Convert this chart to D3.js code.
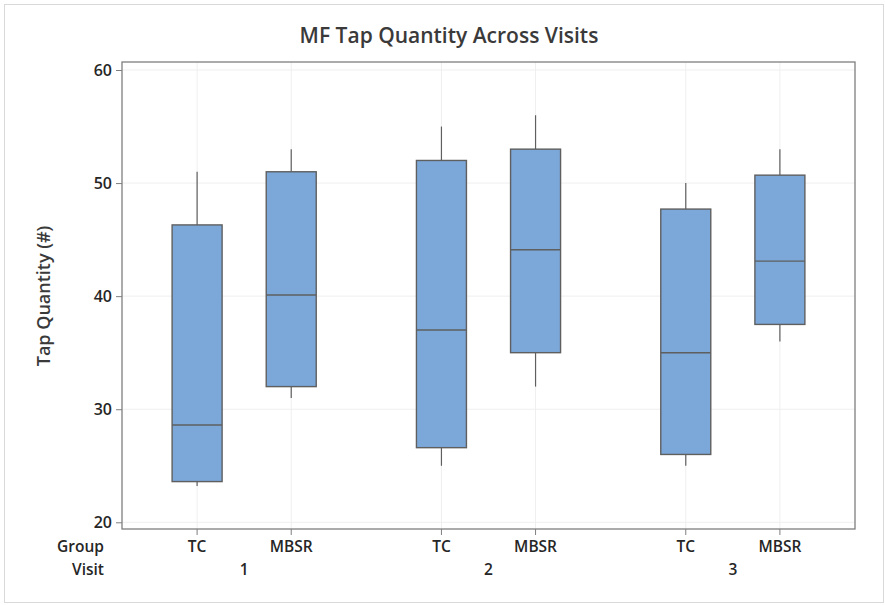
<!DOCTYPE html>
<html>
<head>
<meta charset="utf-8">
<script src="https://cdn.jsdelivr.net/npm/d3@7"></script>
<style>
  html, body { margin: 0; padding: 0; background: #fff; }
  svg { display: block; font-family: "Open Sans", "Noto Sans", sans-serif; }
</style>
</head>
<body>
<svg id="chart" width="885" height="605"></svg>
<script>
// ---- data ----
const visits = ["1", "2", "3"];
const groups = ["TC", "MBSR"];
const whiskerLow  = [23.2, 31, 25, 32, 25, 36];
const q1Values    = [23.6, 32, 26.6, 35, 26, 37.5];
const medians     = [28.6, 40.1, 37, 44.1, 35, 43.1];
const q3Values    = [46.3, 51, 52, 53, 47.7, 50.7];
const whiskerHigh = [51, 53, 55, 56, 50, 53];
const yTicks = [20, 30, 40, 50, 60];

const boxes = [];
visits.forEach((v, vi) => groups.forEach((g, gi) => {
  const i = vi * groups.length + gi;
  boxes.push({ visit: v, group: g, lo: whiskerLow[i], q1: q1Values[i], med: medians[i], q3: q3Values[i], hi: whiskerHigh[i] });
}));

// ---- layout ----
const svg = d3.select("#chart");
const plot = { left: 122, right: 855, top: 62, bottom: 529 };
const boxW = 50;
const textColor = "#262626";

const x0 = d3.scaleBand().domain(visits).range([plot.left, plot.right]).padding(0);
const x1 = d3.scalePoint().domain(groups).range([0, x0.bandwidth()]).padding(0.798);
const y = d3.scaleLinear().domain([20, 60]).range([522.3, 70]);
const cx = d => x0(d.visit) + x1(d.group);

// outer border
svg.append("rect").attr("x", 4.5).attr("y", 4.5).attr("width", 879).attr("height", 598)
  .attr("fill", "#fff").attr("stroke", "#d9d9d9").attr("stroke-width", 1);

// title
svg.append("text").attr("x", 449).attr("y", 42.5).attr("text-anchor", "middle")
  .attr("font-size", 21).attr("font-weight", 600).attr("fill", "#3a3a3a")
  .text("MF Tap Quantity Across Visits");

// gridlines
const grid = svg.append("g");
grid.selectAll("line.h").data(yTicks).join("line").attr("class", "h")
  .attr("x1", plot.left).attr("x2", plot.right)
  .attr("y1", d => y(d)).attr("y2", d => y(d))
  .attr("stroke", "#efefef").attr("stroke-width", 1);
grid.selectAll("line.v").data(boxes).join("line").attr("class", "v")
  .attr("x1", d => cx(d)).attr("x2", d => cx(d))
  .attr("y1", plot.top).attr("y2", plot.bottom)
  .attr("stroke", "#efefef").attr("stroke-width", 1);

// y axis
const yAxis = d3.axisLeft(y).tickValues(yTicks).tickSize(6).tickPadding(4);
const gy = svg.append("g").attr("transform", `translate(${plot.left},0)`).call(yAxis);
gy.select(".domain").remove();
gy.selectAll(".tick line").attr("stroke", "#7f7f7f");
gy.selectAll(".tick text").attr("font-size", 16).attr("font-weight", 600)
  .attr("fill", textColor).attr("font-family", "'Open Sans', sans-serif");

// x ticks (group positions)
svg.append("g").selectAll("line").data(boxes).join("line")
  .attr("x1", d => cx(d)).attr("x2", d => cx(d))
  .attr("y1", plot.bottom).attr("y2", plot.bottom + 6)
  .attr("stroke", "#7f7f7f");

// frame
svg.append("rect").attr("x", plot.left).attr("y", plot.top)
  .attr("width", plot.right - plot.left).attr("height", plot.bottom - plot.top)
  .attr("fill", "none").attr("stroke", "#7f7f7f").attr("stroke-width", 1.3);

// boxes
const bg = svg.append("g").selectAll("g").data(boxes).join("g");
bg.append("line").attr("x1", cx).attr("x2", cx)
  .attr("y1", d => y(d.hi)).attr("y2", d => y(d.q3)).attr("stroke", "#5f5f5f").attr("stroke-width", 1.2);
bg.append("line").attr("x1", cx).attr("x2", cx)
  .attr("y1", d => y(d.q1)).attr("y2", d => y(d.lo)).attr("stroke", "#5f5f5f").attr("stroke-width", 1.2);
bg.append("rect").attr("x", d => cx(d) - boxW / 2).attr("width", boxW)
  .attr("y", d => y(d.q3)).attr("height", d => y(d.q1) - y(d.q3))
  .attr("fill", "#7ba7d9").attr("stroke", "#5f5f5f").attr("stroke-width", 1.4);
bg.append("line").attr("x1", d => cx(d) - boxW / 2).attr("x2", d => cx(d) + boxW / 2)
  .attr("y1", d => y(d.med)).attr("y2", d => y(d.med)).attr("stroke", "#5f5f5f").attr("stroke-width", 1.4);

// group labels
svg.append("g").selectAll("text").data(boxes).join("text")
  .attr("x", cx).attr("y", 552).attr("text-anchor", "middle")
  .attr("font-size", 15.5).attr("font-weight", 600).attr("fill", textColor)
  .text(d => d.group);
// visit labels
svg.append("g").selectAll("text").data(visits).join("text")
  .attr("x", d => x0(d) + x0.bandwidth() / 2).attr("y", 575).attr("text-anchor", "middle")
  .attr("font-size", 15.5).attr("font-weight", 600).attr("fill", textColor)
  .text(d => d);
svg.append("text").attr("x", 104).attr("y", 552).attr("text-anchor", "end")
  .attr("font-size", 15.5).attr("font-weight", 600).attr("fill", textColor).text("Group");
svg.append("text").attr("x", 104).attr("y", 575).attr("text-anchor", "end")
  .attr("font-size", 15.5).attr("font-weight", 600).attr("fill", textColor).text("Visit");

// y label
svg.append("text").attr("transform", "translate(50,296) rotate(-90)")
  .attr("text-anchor", "middle").attr("font-size", 18).attr("font-weight", 600)
  .attr("fill", "#3a3a3a").text("Tap Quantity (#)");
</script>
</body>
</html>
